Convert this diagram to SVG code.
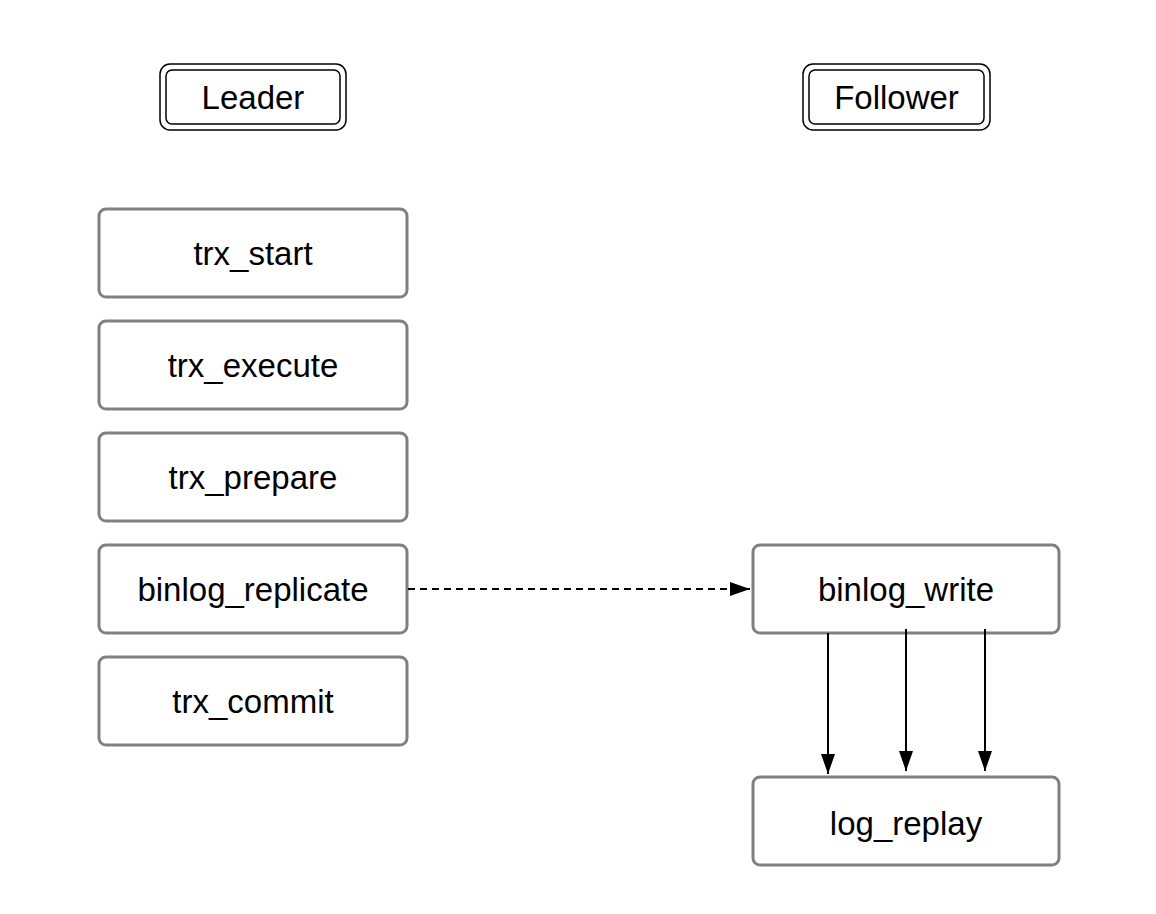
<svg xmlns="http://www.w3.org/2000/svg" width="1156" height="914" viewBox="0 0 1156 914">
<defs>
<style>
.box{fill:#ffffff;stroke:#808080;stroke-width:3}
.hdr{fill:#ffffff;stroke:#000000;stroke-width:1.5}
.lbl{font-family:"Liberation Sans",Arial,Helvetica,sans-serif;font-size:33px;fill:#000000;text-anchor:middle}
.edge{fill:none;stroke:#000000;stroke-width:2}
</style>
<marker id="arr" markerUnits="userSpaceOnUse" markerWidth="20" markerHeight="20" viewBox="0 0 20 14" refX="20" refY="7" orient="auto">
<path d="M0,0 L20,7 L0,14 Z" fill="#000000"/>
</marker>
</defs>
<rect width="1156" height="914" fill="#ffffff"/>
<g id="leader">
<rect class="hdr" x="160" y="64" width="186" height="66" rx="10"/>
<rect class="hdr" x="166" y="70" width="174" height="54" rx="6"/>
<text class="lbl" x="253" y="109">Leader</text>
</g>
<g id="follower">
<rect class="hdr" x="803" y="64" width="187" height="66" rx="10"/>
<rect class="hdr" x="809" y="70" width="175" height="54" rx="6"/>
<text class="lbl" x="896.5" y="109">Follower</text>
</g>
<g id="trx_start">
<rect class="box" x="99" y="209" width="308" height="88" rx="7"/>
<text class="lbl" x="253" y="265">trx_start</text>
</g>
<g id="trx_execute">
<rect class="box" x="99" y="321" width="308" height="88" rx="7"/>
<text class="lbl" x="253" y="377">trx_execute</text>
</g>
<g id="trx_prepare">
<rect class="box" x="99" y="433" width="308" height="88" rx="7"/>
<text class="lbl" x="253" y="489">trx_prepare</text>
</g>
<g id="binlog_replicate">
<rect class="box" x="99" y="545" width="308" height="88" rx="7"/>
<text class="lbl" x="253" y="601">binlog_replicate</text>
</g>
<g id="trx_commit">
<rect class="box" x="99" y="657" width="308" height="88" rx="7"/>
<text class="lbl" x="253" y="713">trx_commit</text>
</g>
<g id="binlog_write">
<rect class="box" x="753" y="545" width="306" height="88" rx="7"/>
<text class="lbl" x="906" y="601">binlog_write</text>
</g>
<g id="log_replay">
<rect class="box" x="753" y="777" width="306" height="88" rx="7"/>
<text class="lbl" x="906" y="835">log_replay</text>
</g>
<g id="connectors">
<path class="edge" d="M408,589 L750,589" stroke-dasharray="7 5" marker-end="url(#arr)"/>
<path class="edge" d="M828,633 L828,774" marker-end="url(#arr)"/>
<path class="edge" d="M906,629 L906,771" marker-end="url(#arr)"/>
<path class="edge" d="M985,629 L985,771" marker-end="url(#arr)"/>
</g>
</svg>
